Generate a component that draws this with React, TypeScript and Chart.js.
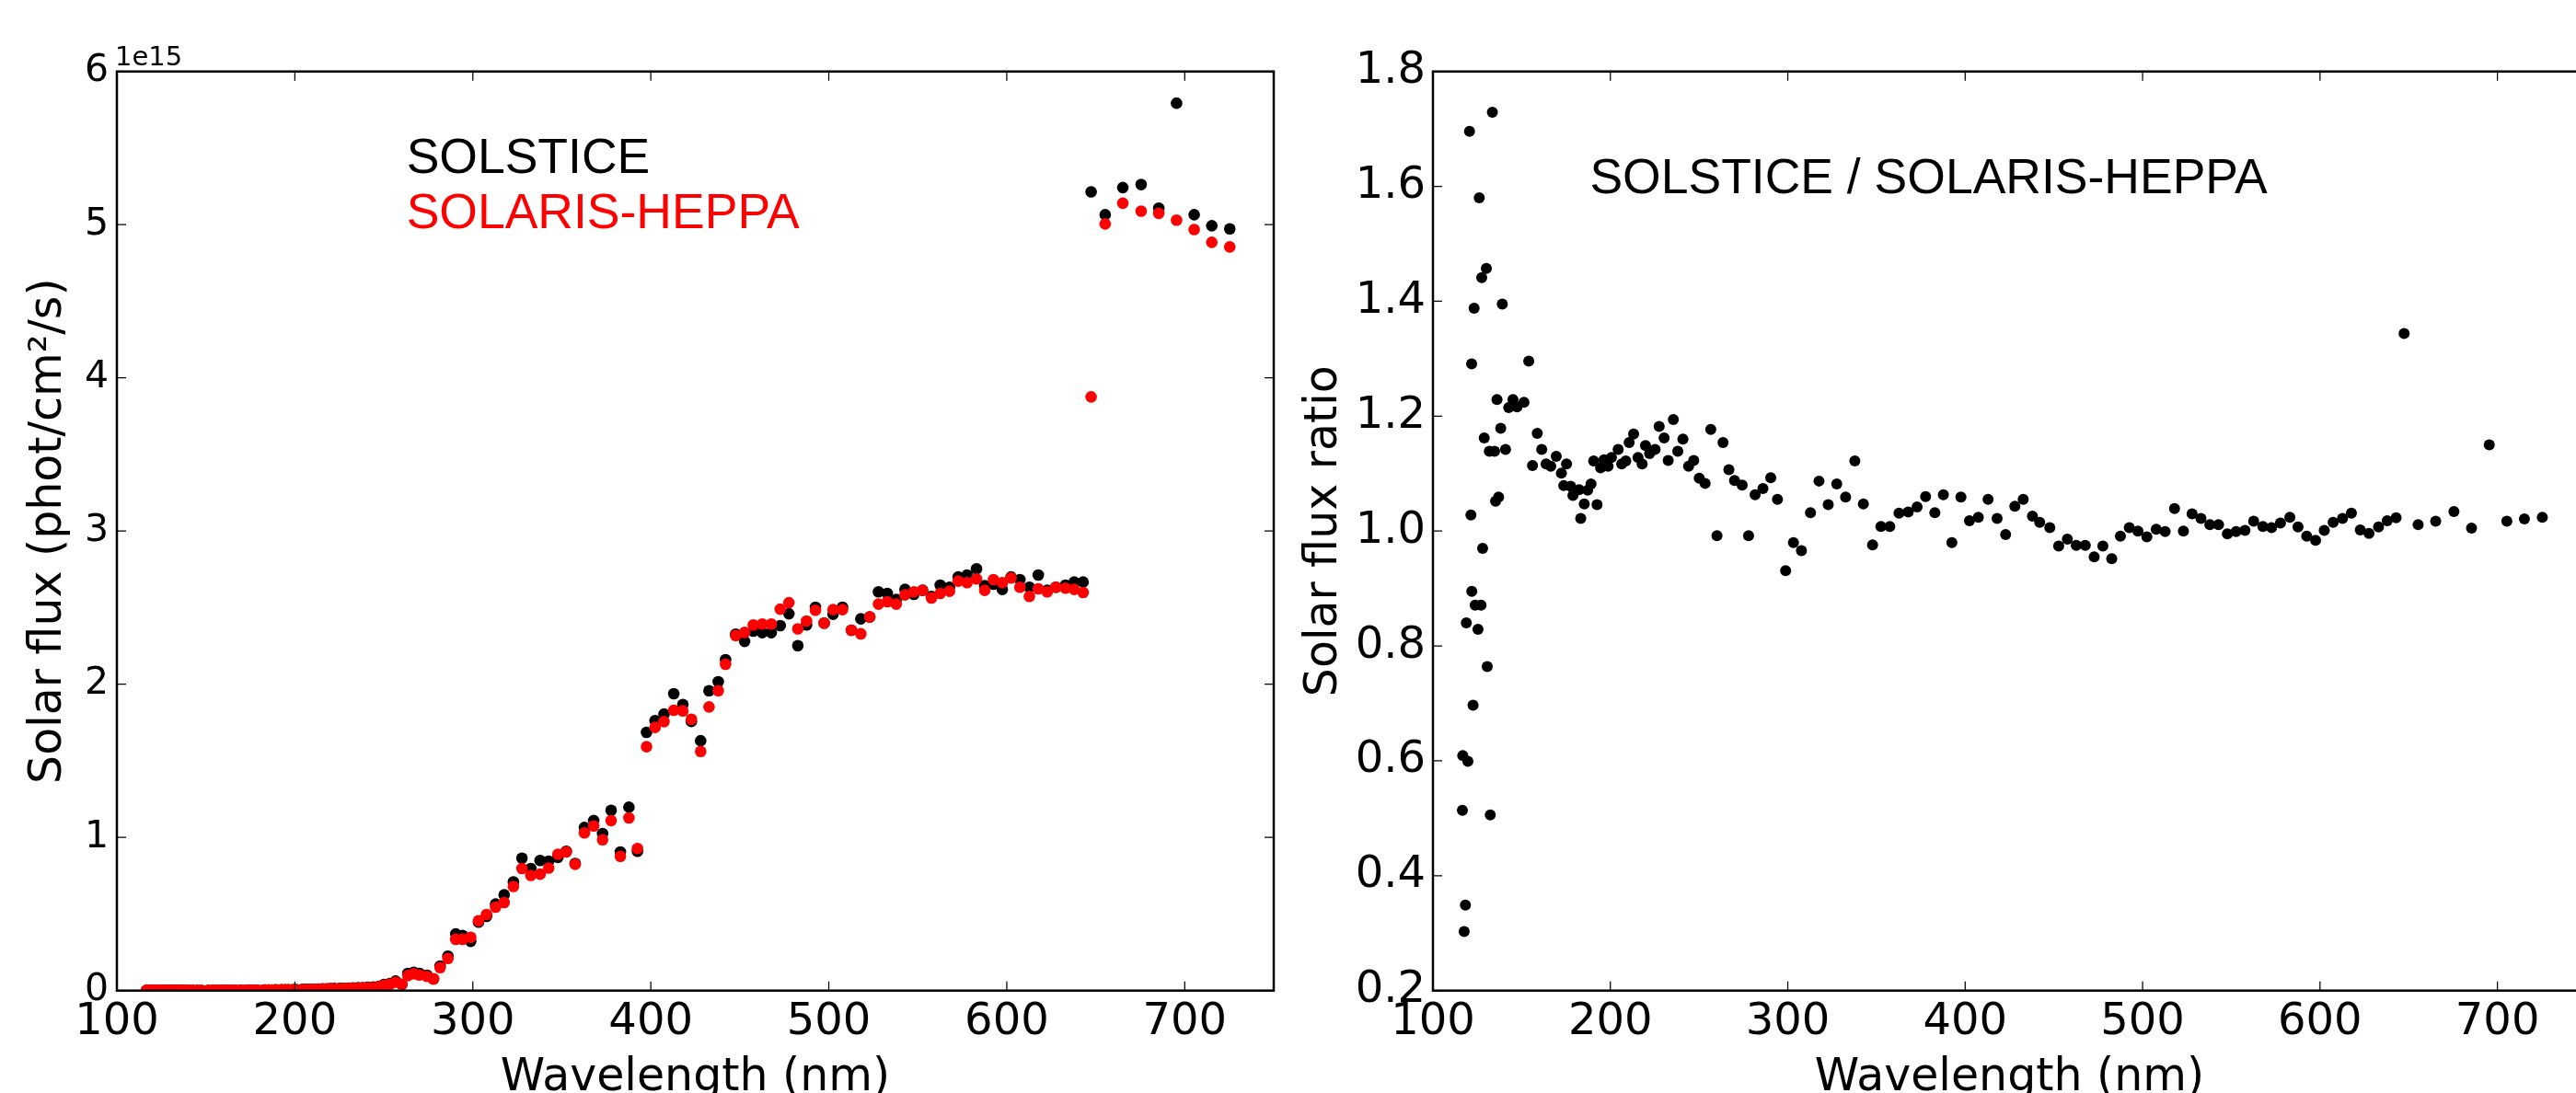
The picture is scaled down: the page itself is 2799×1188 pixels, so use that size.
import React, { useEffect, useRef } from 'react';
import { Chart, registerables } from 'chart.js';

Chart.register(...registerables);

// Wavelength of each spectral bin (nm)
const wavelength = [
  116.6, 116.8, 117.6, 118.3, 118.8, 119.7, 120.6, 121.4, 121.8, 121.9,
  122.6, 123.2, 123.8, 125.4, 126.1, 127.1, 127.5, 128.0, 128.9, 130.1,
  130.6, 131.8, 132.3, 133.5, 134.7, 135.3, 136.1, 137.0, 138.2, 139.1,
  140.9, 142.7, 145.1, 147.4, 151.3, 154.0, 156.1, 158.8, 161.3, 163.8,
  166.4, 169.5, 172.4, 173.7, 175.3, 177.6, 178.9, 182.4, 183.3, 185.3,
  187.2, 189.1, 190.6, 192.5, 194.5, 196.4, 198.7, 200.6, 204.4, 206.4,
  208.7, 210.6, 213.1, 215.6, 217.9, 219.8, 222.1, 225.2, 227.5, 230.3,
  232.6, 235.5, 238.0, 240.9, 244.1, 247.0,
  250.1, 253.4, 256.6, 260.1, 263.5, 266.8, 270.0, 274.3, 277.9, 281.6,
  286.0, 290.4, 294.2, 298.8, 303.2, 307.7, 312.8, 317.6, 322.8, 327.6,
  332.6, 337.8, 342.6, 347.8, 352.5, 357.5, 362.7, 367.9, 372.9, 377.7,
  382.9, 387.7, 392.5, 397.6, 402.4, 407.4, 412.9, 418.0, 422.8, 428.0,
  432.7, 437.9, 442.0, 447.7, 452.7, 457.6, 462.6, 467.7, 472.7, 477.6,
  482.6, 487.5, 492.5, 497.4, 502.4, 507.7, 512.7, 518.0, 523.0, 527.9,
  532.9, 537.9, 542.8, 547.8, 552.7, 557.7, 562.6, 567.8, 572.7, 577.7,
  583.0, 587.6, 592.5, 597.5, 602.4, 607.4, 612.7, 617.7, 622.7, 627.6,
  633.0, 637.9, 642.9, 647.4, 655.3, 665.2, 675.5, 685.4, 695.4, 705.3,
  715.2, 725.3,
];

// SOLSTICE solar flux, in units of 1e15 phot/cm2/s
const solsticeFlux = [
  0.0005, 0.0006, 0.0003, 0.0004, 0.0008, 0.0006, 0.0017, 0.001, 0.0013, 0.0009,
  0.0007, 0.0014, 0.0009, 0.0008, 0.0016, 0.0009, 0.0014, 0.001, 0.0012, 0.0015,
  0.0008, 0.0011, 0.0005, 0.0017, 0.0011, 0.0011, 0.0012, 0.0011, 0.0012, 0.0014,
  0.0011, 0.0012, 0.0012, 0.0012, 0.0012, 0.002, 0.002, 0.002, 0.002, 0.002,
  0.002, 0.003, 0.003, 0.003, 0.003, 0.003, 0.003, 0.003, 0.004, 0.004,
  0.004, 0.005, 0.004, 0.006, 0.006, 0.006, 0.006, 0.007, 0.008, 0.008,
  0.009, 0.009, 0.010, 0.011, 0.011, 0.013, 0.014, 0.014, 0.015, 0.016,
  0.017, 0.019, 0.019, 0.022, 0.023, 0.027,
  0.040, 0.046, 0.062, 0.042, 0.112, 0.120, 0.112, 0.100, 0.076, 0.160,
  0.225, 0.370, 0.360, 0.322, 0.447, 0.485, 0.565, 0.625, 0.710, 0.865,
  0.797, 0.850, 0.845, 0.870, 0.910, 0.830, 1.065, 1.110, 1.025, 1.177,
  0.905, 1.197, 0.910, 1.686, 1.762, 1.805, 1.938, 1.868, 1.757, 1.631,
  1.958, 2.016, 2.160, 2.327, 2.280, 2.347, 2.337, 2.337, 2.383, 2.460,
  2.252, 2.387, 2.503, 2.399, 2.457, 2.503, 2.353, 2.427, 2.439, 2.603,
  2.593, 2.553, 2.619, 2.587, 2.613, 2.573, 2.647, 2.633, 2.700, 2.713,
  2.753, 2.643, 2.653, 2.619, 2.700, 2.683, 2.633, 2.713, 2.613, 2.633,
  2.647, 2.667, 2.667, 5.214, 5.065, 5.242, 5.262, 5.108, 5.793, 5.065,
  4.993, 4.973,
];

// SOLARIS-HEPPA solar flux, in units of 1e15 phot/cm2/s
const solarisFlux = [
  0.001, 0.001, 0.001, 0.001, 0.001, 0.001, 0.001, 0.001, 0.001, 0.001,
  0.001, 0.001, 0.001, 0.001, 0.001, 0.001, 0.001, 0.001, 0.001, 0.001,
  0.001, 0.001, 0.001, 0.001, 0.001, 0.001, 0.001, 0.001, 0.001, 0.001,
  0.001, 0.001, 0.001, 0.001, 0.001, 0.002, 0.002, 0.002, 0.002, 0.002,
  0.002, 0.003, 0.003, 0.003, 0.003, 0.003, 0.003, 0.003, 0.004, 0.004,
  0.004, 0.004, 0.004, 0.005, 0.005, 0.005, 0.005, 0.006, 0.007, 0.007,
  0.008, 0.008, 0.009, 0.010, 0.010, 0.011, 0.012, 0.012, 0.013, 0.014,
  0.015, 0.016, 0.017, 0.019, 0.021, 0.024,
  0.036, 0.042, 0.055, 0.040, 0.098, 0.110, 0.102, 0.093, 0.076, 0.150,
  0.210, 0.335, 0.335, 0.348, 0.456, 0.497, 0.545, 0.575, 0.680, 0.797,
  0.752, 0.760, 0.800, 0.890, 0.905, 0.825, 1.030, 1.075, 0.985, 1.110,
  0.877, 1.127, 0.928, 1.592, 1.718, 1.756, 1.830, 1.826, 1.771, 1.561,
  1.852, 1.958, 2.130, 2.318, 2.338, 2.387, 2.393, 2.393, 2.490, 2.532,
  2.362, 2.413, 2.483, 2.399, 2.487, 2.487, 2.353, 2.329, 2.439, 2.523,
  2.539, 2.523, 2.583, 2.603, 2.613, 2.563, 2.593, 2.607, 2.673, 2.663,
  2.687, 2.613, 2.683, 2.663, 2.693, 2.633, 2.573, 2.623, 2.603, 2.633,
  2.627, 2.619, 2.599, 3.876, 5.005, 5.140, 5.088, 5.074, 5.030, 4.968,
  4.885, 4.855,
];

// SOLSTICE / SOLARIS-HEPPA flux ratio
const fluxRatio = [
  0.514, 0.609, 0.303, 0.349, 0.840, 0.599, 1.696, 1.028, 1.291, 0.895,
  0.697, 1.388, 0.871, 0.829, 1.580, 0.871, 1.441, 0.970, 1.162, 1.457,
  0.764, 1.139, 0.506, 1.729, 1.139, 1.052, 1.229, 1.059, 1.179, 1.395,
  1.142, 1.215, 1.229, 1.216, 1.224, 1.296, 1.114, 1.170, 1.142, 1.117,
  1.113, 1.130, 1.101, 1.079, 1.117, 1.078, 1.062, 1.072, 1.022, 1.047,
  1.071, 1.082, 1.122, 1.046, 1.110, 1.124, 1.113, 1.128, 1.142, 1.117,
  1.122, 1.154, 1.169, 1.128, 1.117, 1.149, 1.135, 1.142, 1.182, 1.162,
  1.123, 1.194, 1.139, 1.160, 1.113, 1.123,
  1.092, 1.083, 1.177, 0.992, 1.154, 1.107, 1.088, 1.080, 0.992, 1.063,
  1.074, 1.093, 1.055, 0.931, 0.980, 0.966, 1.032, 1.087, 1.046, 1.082,
  1.059, 1.122, 1.047, 0.976, 1.008, 1.008, 1.031, 1.033, 1.042, 1.060,
  1.032, 1.063, 0.980, 1.059, 1.018, 1.024, 1.055, 1.022, 0.994, 1.043,
  1.055, 1.026, 1.015, 1.006, 0.974, 0.986, 0.975, 0.975, 0.955, 0.974,
  0.952, 0.991, 1.006, 1.000, 0.990, 1.003, 0.999, 1.039, 1.000, 1.030,
  1.022, 1.011, 1.011, 0.995, 0.999, 1.001, 1.017, 1.008, 1.006, 1.014,
  1.024, 1.007, 0.991, 0.984, 1.001, 1.015, 1.022, 1.031, 1.002, 0.996,
  1.007, 1.018, 1.023, 1.344, 1.011, 1.017, 1.034, 1.005, 1.150, 1.017,
  1.021, 1.024,
];

const wavelengthTicks = [100, 200, 300, 400, 500, 600, 700];
const fluxTicks = [0, 1, 2, 3, 4, 5, 6];
const ratioTicks = [0.2, 0.4, 0.6, 0.8, 1.0, 1.2, 1.4, 1.6, 1.8];

const seriesNames = ['SOLSTICE', 'SOLARIS-HEPPA'];
const ratioName = 'SOLSTICE / SOLARIS-HEPPA';

const toPoints = (xs: number[], ys: number[]) => xs.map((x, i) => ({ x, y: ys[i] }));

const DEJAVU = '"DejaVu Sans", sans-serif';
const LIB = '"Liberation Sans", Arial, sans-serif';

const mplFrame = {
  id: 'mplFrame',
  afterDraw(chart: any, _args: any, opts: any) {
    const { ctx, chartArea: a } = chart;
    const xs = chart.scales.x;
    const ys = chart.scales.y;
    ctx.save();
    ctx.strokeStyle = '#000';
    ctx.lineWidth = 1.25;
    const L = 10;
    ctx.beginPath();
    for (const t of xs.ticks) {
      const px = xs.getPixelForValue(t.value);
      ctx.moveTo(px, a.bottom);
      ctx.lineTo(px, a.bottom - L);
      ctx.moveTo(px, a.top);
      ctx.lineTo(px, a.top + L);
    }
    for (const t of ys.ticks) {
      const py = ys.getPixelForValue(t.value);
      ctx.moveTo(a.left, py);
      ctx.lineTo(a.left + L, py);
      ctx.moveTo(a.right, py);
      ctx.lineTo(a.right - L, py);
    }
    ctx.stroke();
    ctx.lineWidth = 2.5;
    ctx.strokeRect(a.left, a.top, a.right - a.left, a.bottom - a.top);

    ctx.textBaseline = 'alphabetic';
    for (const t of opts.labels || []) {
      ctx.font = t.font;
      ctx.fillStyle = t.color || '#000';
      ctx.textAlign = t.align || 'left';
      const x = t.px !== undefined ? t.px : xs.getPixelForValue(t.x);
      const y = t.mid ? (a.top + a.bottom) / 2 : t.py !== undefined ? t.py : ys.getPixelForValue(t.y);
      ctx.save();
      ctx.translate(x, y);
      if (t.rotate) ctx.rotate(t.rotate);
      ctx.fillText(t.text, 0, 0);
      ctx.restore();
    }
    ctx.restore();
  },
};

function xAxis(max: number) {
  return {
    type: 'linear',
    min: 100,
    max,
    afterBuildTicks: (s: any) => {
      s.ticks = wavelengthTicks.map((v) => ({ value: v }));
    },
    afterFit: (s: any) => {
      s.height = 1188 - 1076.7;
      s.paddingLeft = 0;
      s.paddingRight = 0;
    },
    grid: { display: false, drawTicks: false },
    border: { display: false },
    ticks: {
      color: '#000',
      font: { family: DEJAVU, size: 48 },
      padding: 6,
      maxRotation: 0,
      minRotation: 0,
      autoSkip: false,
      callback: (v: any) => String(v),
    },
  };
}

function yAxis(min: number, max: number, ticks: number[], width: number, size: number, pad: number, fmt: (v: number) => string) {
  return {
    type: 'linear',
    min,
    max,
    afterBuildTicks: (s: any) => {
      s.ticks = ticks.map((v) => ({ value: v }));
    },
    afterFit: (s: any) => {
      s.width = width;
      s.paddingTop = 0;
      s.paddingBottom = 0;
    },
    grid: { display: false, drawTicks: false },
    border: { display: false },
    ticks: {
      color: '#000',
      font: { family: DEJAVU, size },
      padding: pad,
      autoSkip: false,
      callback: (v: any) => fmt(Number(v)),
    },
  };
}

export default function App() {
  const leftRef = useRef<HTMLCanvasElement>(null);
  const rightRef = useRef<HTMLCanvasElement>(null);

  useEffect(() => {
    const prevMargin = document.body.style.margin;
    document.body.style.margin = '0';

    const common = {
      animation: false,
      responsive: false,
      events: [],
      plugins: { legend: { display: false }, tooltip: { enabled: false } },
    };

    const left = new Chart(leftRef.current as HTMLCanvasElement, {
      type: 'scatter',
      data: {
        datasets: [
          {
            label: seriesNames[0],
            data: toPoints(wavelength, solsticeFlux),
            backgroundColor: '#000000',
            borderWidth: 0,
            pointRadius: 6.3,
            clip: 0,
            order: 1,
          },
          {
            label: seriesNames[1],
            data: toPoints(wavelength, solarisFlux),
            backgroundColor: '#ff0000',
            borderWidth: 0,
            pointRadius: 6.3,
            clip: 0,
            order: 0,
          },
        ],
      },
      options: {
        ...common,
        layout: { padding: { top: 77.7, right: 16, left: 0, bottom: 0 } },
        scales: {
          x: xAxis(750),
          y: yAxis(0, 6, fluxTicks, 127, 41, 9, (v) => String(v)),
        },
        plugins: {
          ...common.plugins,
          mplFrame: {
            labels: [
              { text: '1e15', px: 125, py: 71, font: `29px ${DEJAVU}` },
              { text: seriesNames[0], x: 262.7, y: 5.34, font: `53.5px ${LIB}`, color: '#000000' },
              { text: seriesNames[1], x: 262.7, y: 4.98, font: `53.5px ${LIB}`, color: '#ff0000' },
              { text: 'Wavelength (nm)', x: 425, py: 1185, align: 'center', font: `49px ${DEJAVU}` },
              { text: 'Solar flux (phot/cm²/s)', px: 66, mid: true, align: 'center', rotate: -Math.PI / 2, font: `49px ${DEJAVU}` },
            ],
          },
        },
      } as any,
      plugins: [mplFrame],
    } as any);

    const right = new Chart(rightRef.current as HTMLCanvasElement, {
      type: 'scatter',
      data: {
        datasets: [
          {
            label: ratioName,
            data: toPoints(wavelength, fluxRatio),
            backgroundColor: '#000000',
            borderWidth: 0,
            pointRadius: 6,
            clip: 0,
          },
        ],
      },
      options: {
        ...common,
        layout: { padding: { top: 77.7, right: 10, left: 0, bottom: 0 } },
        scales: {
          x: xAxis(750),
          y: yAxis(0.2, 1.8, ratioTicks, 157, 48, 8, (v) => v.toFixed(1)),
        },
        plugins: {
          ...common.plugins,
          mplFrame: {
            labels: [
              { text: ratioName, x: 188.4, y: 1.588, font: `53.5px ${LIB}`, color: '#000000' },
              { text: 'Wavelength (nm)', x: 425, py: 1185, align: 'center', font: `49px ${DEJAVU}` },
              { text: 'Solar flux ratio', px: 52, mid: true, align: 'center', rotate: -Math.PI / 2, font: `49px ${DEJAVU}` },
            ],
          },
        },
      } as any,
      plugins: [mplFrame],
    } as any);

    return () => {
      left.destroy();
      right.destroy();
      document.body.style.margin = prevMargin;
    };
  }, []);

  return (
    <div
      style={{
        position: 'fixed',
        left: 0,
        top: 0,
        width: 2799,
        height: 1188,
        overflow: 'hidden',
        background: '#ffffff',
      }}
    >
      <canvas ref={leftRef} width={1400} height={1188} style={{ position: 'absolute', left: 0, top: 0 }} />
      <canvas ref={rightRef} width={1420} height={1188} style={{ position: 'absolute', left: 1400, top: 0 }} />
    </div>
  );
}
